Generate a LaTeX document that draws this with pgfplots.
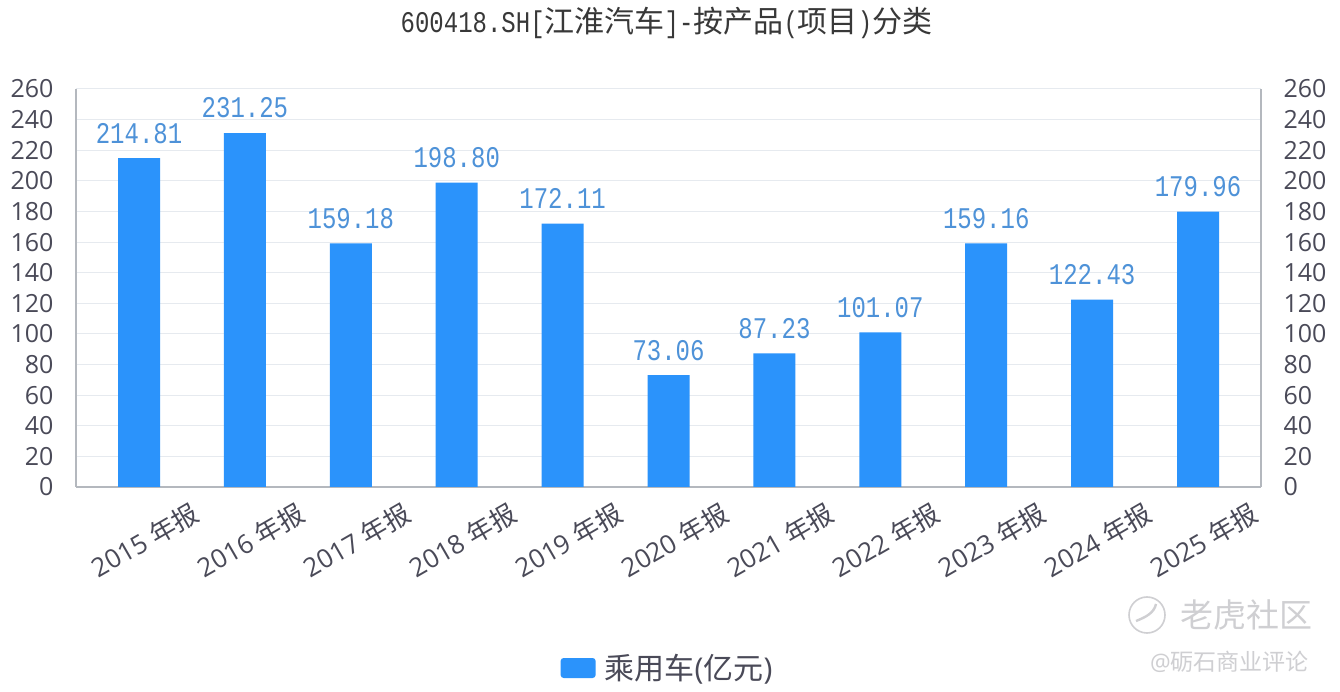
\documentclass[border=0pt]{standalone}
\usepackage{pgfplots}
\usepackage{graphicx}
\usepackage{fontspec}
\pgfplotsset{compat=1.18}
\setmainfont{Open Sans}
\newfontfamily\cjk{Noto Sans CJK SC}
\newfontfamily\monof{Liberation Mono}
\newcommand{\tall}[1]{\scalebox{1}[1.25]{\fontsize{24}{24}\monof\selectfont #1}}
\definecolor{barblue}{HTML}{2B93FB}
\definecolor{lblblue}{HTML}{4E92D8}
\definecolor{tick}{HTML}{4A4A58}
\definecolor{gridc}{HTML}{E6EAEF}
\definecolor{axisc}{HTML}{B4B8BE}
\definecolor{wm}{HTML}{CFCFD2}
\pgfplotstableread{
x v
0 214.81
1 231.25
2 159.18
3 198.80
4 172.11
5 73.06
6 87.23
7 101.07
8 159.16
9 122.43
10 179.96
}\datatbl
\begin{document}
\begin{tikzpicture}[x=1pt,y=1pt]
\path[fill=white,use as bounding box] (-76,-205) rectangle (1264,487);
\begin{axis}[
  at={(0pt,0pt)},anchor=south west,
  scale only axis,width=1185pt,height=398pt,
  xmin=-0.595,xmax=10.595,ymin=0,ymax=260,
  ytick={0,20,...,260},
  xtick={0,...,10},
  xticklabels={2015,2016,2017,2018,2019,2020,2021,2022,2023,2024,2025},
  xticklabel={\pgfmathparse{int(2015+\ticknum)}\pgfmathresult\ {\cjk 年报}},
  xticklabel style={rotate=30,anchor=center,font=\fontsize{26}{26}\selectfont,text=tick,xshift=-21.5pt,yshift=-49pt},
  yticklabel style={font=\fontsize{25}{25}\selectfont,text=tick,anchor=east,xshift=-19pt},
  /pgf/number format/assume math mode=true,
  /pgf/number format/1000 sep={},
  ymajorgrids,
  grid style={gridc,line width=1pt},
  tick style={draw=none},
  major tick length=0pt,
  axis line style={axisc,line width=1.4pt},
  axis x line*=bottom,
  axis y line*=left,
  clip=false,
  title={\tall{600418.SH[}{\cjk 江淮汽车}\tall{]-}{\cjk 按产品}\tall{(}{\cjk 项目}\tall{)}{\cjk 分类}},
  title style={at={(0.5,1)},anchor=center,yshift=60pt,xshift=-2pt,font=\fontsize{30}{30}\selectfont,text=black!78},
  legend style={at={(0.5,0)},anchor=center,yshift=-181pt,xshift=-1pt,draw=none,fill=none,
    font=\fontsize{30}{30}\selectfont,text=tick,inner sep=0pt,
    /tikz/every even column/.append style={column sep=0pt}},
  legend image code/.code={\fill[barblue,rounded corners=3pt] (-3pt,-10pt) rectangle (32pt,10pt);},
  legend cell align=left,
]
\addplot[ybar,bar width=42pt,fill=barblue,draw=none,
  nodes near coords,
  point meta=explicit,
  nodes near coords style={font=\fontsize{24}{24}\monof\selectfont,text=lblblue,anchor=center,yshift=25pt,
    transform shape,yscale=1.25,
    /pgf/number format/fixed,/pgf/number format/fixed zerofill,/pgf/number format/precision=2},
] table[x=x,y=v,meta=v] {\datatbl};
\addlegendentry{\hspace{7pt}{\cjk 乘用车}(\hspace{0pt}{\cjk 亿元})}
\end{axis}
\begin{axis}[
  at={(0pt,0pt)},anchor=south west,
  scale only axis,width=1185pt,height=398pt,
  xmin=-0.595,xmax=10.595,ymin=0,ymax=260,
  ytick={0,20,...,260},
  xtick=\empty,
  axis x line=none,
  axis y line*=right,
  major tick length=0pt,
  tick style={draw=none},
  axis line style={axisc,line width=1.4pt},
  yticklabel style={font=\fontsize{25}{25}\selectfont,text=tick,anchor=west,xshift=19pt},
  /pgf/number format/assume math mode=true,
]
\addplot[draw=none,forget plot] coordinates {(0,0)};
\end{axis}
\draw[wm,line width=1.6pt] (1071,-128) circle (18pt);
\draw[wm,line width=2.4pt] (1060,-134) .. controls (1070,-130) and (1078,-126) .. (1080,-117);
\node[anchor=west,inner sep=0pt,text=wm,font=\fontsize{33}{33}\cjk\selectfont] at (1104,-128) {老虎社区};
\node[anchor=west,inner sep=0pt,text=wm,font=\fontsize{23}{23}\selectfont] at (1074,-175) {@{\cjk 砺石商业评论}};
\end{tikzpicture}
\end{document}
